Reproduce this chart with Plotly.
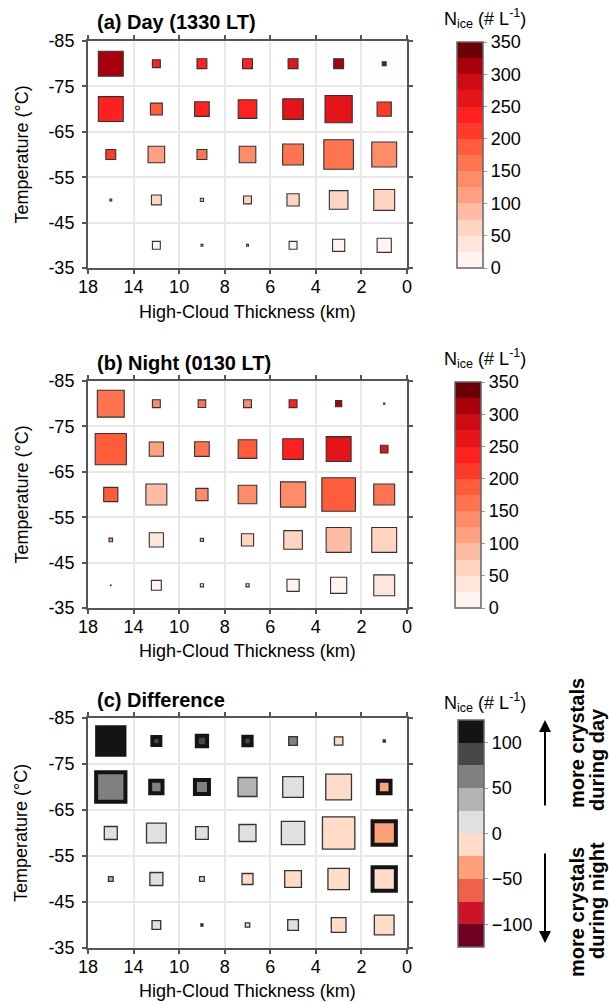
import numpy as np
import plotly.graph_objects as go

# ---------------- data ----------------
thickness_edges = [18, 14, 10, 8, 6, 4, 2, 0]          # high-cloud thickness bin edges (km)
temperature_rows = [-80, -70, -60, -50, -40]            # temperature bin centres (deg C)
temp_ticks = [-85, -75, -65, -55, -45, -35]
nan = None

# Ice-crystal number concentration (# per L), rows = temperature, cols = thickness bins
nice_day = [
    [310, 237, 237, 237, 262, 310, 310],
    [240, 190, 235, 240, 265, 265, 215],
    [215, 112, 162, 137, 162, 162, 137],
    [62, 62, 90, 62, 62, 62, 55],
    [nan, 15, 15, 15, 20, 10, 12],
]
nice_night = [
    [162, 137, 150, 125, 237, 312, 290],
    [187, 112, 162, 187, 237, 262, 262],
    [187, 87, 137, 137, 137, 190, 162],
    [112, 30, 112, 62, 62, 87, 62],
    [10, 15, 8, 62, 10, 10, 30],
]
nice_diff = [
    [112, 87, 87, 87, 62, -12, 112],
    [62, 62, 62, 37, 12, -12, -37],
    [12, 12, 12, 12, 12, -12, -37],
    [37, 12, 12, -12, -12, -12, -12],
    [nan, 12, 112, -12, 12, -12, -12],
]
# relative frequency of occurrence (drives the square size)
freq_day = [
    [26, 9, 11, 11, 11, 11, 5],
    [26, 13, 15.7, 19.7, 21.7, 28.3, 15.3],
    [11, 17.7, 11, 17.7, 22, 30.7, 26],
    [3, 11, 4.3, 9, 13.3, 19.7, 22],
    [nan, 9, 3, 3, 9, 13.3, 15.3],
]
freq_night = [
    [28, 9, 8.7, 9, 9, 7.3, 2.3],
    [32.3, 15.3, 15.7, 19.7, 21.7, 26, 8.7],
    [15.3, 22, 13.3, 19.7, 26.3, 34.7, 22],
    [4.7, 15.3, 4.3, 13.3, 19.7, 26, 26],
    [1, 11, 4.3, 4.3, 13.3, 17.3, 22],
]
freq_diff = [
    [31.3, 12, 14.3, 12.3, 10, 9.7, 3.3],
    [33.3, 16.3, 18, 20.3, 22, 27, 16.7],
    [14.3, 21, 14, 18.3, 24.7, 33.7, 27.3],
    [6, 14.3, 6, 12.3, 18, 22.7, 27.3],
    [nan, 10, 3.3, 5.7, 12, 16, 21],
]
# statistically significant difference (thick outline)
signif_diff = [
    [1, 1, 1, 1, 0, 0, 0],
    [1, 1, 1, 0, 0, 0, 1],
    [0, 0, 0, 0, 0, 0, 1],
    [0, 0, 0, 0, 0, 0, 1],
    [0, 0, 0, 0, 0, 0, 0],
]
nice_ticks = [0, 50, 100, 150, 200, 250, 300, 350]
diff_ticks = [-100, -50, 0, 50, 100]

# ---------------- styling ----------------
W, H = 609, 1002
FONT = "Liberation Sans, Arial, Helvetica, sans-serif"

reds = ["#fff4f0", "#ffe6dc", "#ffd4c0", "#ffbca4", "#ffa080", "#ff8c68", "#ff7450",
        "#ff5c3c", "#ff3a2a", "#ff2020", "#e41418", "#cc0c14", "#a8000c", "#6b0008"]
diffc = ["#700020", "#cc1428", "#f0604a", "#ffa07a", "#ffdcc8",
         "#e0e0e0", "#b4b4b4", "#808080", "#484848", "#141414"]


def discrete_scale(colors):
    n = len(colors)
    sc = []
    for i, c in enumerate(colors):
        sc.append([i / n, c])
        sc.append([(i + 1) / n, c])
    return sc


def fx(p):
    return p / W


def fy(p):
    return 1 - p / H


bin_pos = np.arange(len(thickness_edges) - 1) + 0.5

panels = [
    dict(vals=nice_day, freq=freq_day, sig=None, top=41, bot=268, ca="coloraxis",
         title="<b>(a) Day (1330 LT)</b>", ty=22, xt=312),
    dict(vals=nice_night, freq=freq_night, sig=None, top=381, bot=608, ca="coloraxis2",
         title="<b>(b) Night (0130 LT)</b>", ty=363, xt=651),
    dict(vals=nice_diff, freq=freq_diff, sig=signif_diff, top=718, bot=948, ca="coloraxis3",
         title="<b>(c) Difference</b>", ty=700, xt=991),
]

fig = go.Figure()
annotations = []
layout = dict(
    template="none",
    width=W, height=H, margin=dict(l=0, r=0, t=0, b=0, pad=0, autoexpand=False),
    paper_bgcolor="white", plot_bgcolor="white",
    font=dict(family=FONT, size=18, color="black"),
    showlegend=False,
)

for k, p in enumerate(panels):
    xs, ys, cs, ss, lw, lc = [], [], [], [], [], []
    for r, t in enumerate(temperature_rows):
        for c, xp in enumerate(bin_pos):
            v = p["vals"][r][c]
            f = p["freq"][r][c]
            if v is None or f is None:
                continue
            if p["sig"] is not None:
                w = 4.0 if p["sig"][r][c] else 1.3
                col = "#141414" if p["sig"][r][c] else "#333333"
            else:
                w = 1.1
                col = "#333333"
            xs.append(xp)
            ys.append(t)
            cs.append(v)
            ss.append(max(f - w, 0.6))
            lw.append(w)
            lc.append(col)
    sfx = "" if k == 0 else str(k + 1)
    fig.add_trace(go.Scatter(
        x=xs, y=ys, mode="markers", xaxis="x" + sfx, yaxis="y" + sfx,
        marker=dict(symbol="square", size=ss, color=cs, coloraxis=p["ca"], opacity=1,
                    line=dict(width=lw, color=lc)),
        hoverinfo="skip", cliponaxis=False,
    ))
    axis_common = dict(
        showgrid=True, gridcolor="#e8e8e8", gridwidth=1.5, zeroline=False,
        showline=True, linecolor="#555555", linewidth=2, mirror="ticks",
        ticks="outside", ticklen=4, tickwidth=2, tickcolor="#555555",
        tickfont=dict(size=18, family=FONT, color="black"), automargin=False,
    )
    layout["xaxis" + sfx] = dict(
        axis_common, domain=[fx(88), fx(407)], range=[0, len(thickness_edges) - 1],
        tickvals=list(range(len(thickness_edges))), ticktext=[str(e) for e in thickness_edges],
        anchor="y" + sfx, ticklabelstandoff=-3,
    )
    layout["yaxis" + sfx] = dict(
        axis_common, domain=[fy(p["bot"]), fy(p["top"])], range=[-35, -85],
        tickvals=temp_ticks, ticktext=[str(t) for t in temp_ticks],
        anchor="x" + sfx, ticklabelstandoff=4,
    )
    annotations.append(dict(text=p["title"], x=fx(95), y=fy(p["ty"]), xref="paper", yref="paper",
                            xanchor="left", yanchor="middle", showarrow=False,
                            font=dict(size=20, family=FONT)))
    annotations.append(dict(text="High-Cloud Thickness (km)", x=fx(247.5), y=fy(p["xt"]),
                            xref="paper", yref="paper", xanchor="center", yanchor="middle",
                            showarrow=False, font=dict(size=18, family=FONT)))
    annotations.append(dict(text="Temperature (°C)", x=fx(21), y=fy((p["top"] + p["bot"]) / 2),
                            xref="paper", yref="paper", xanchor="center", yanchor="middle",
                            textangle=-90, showarrow=False, font=dict(size=18, family=FONT)))

cb_common = dict(thickness=26, thicknessmode="pixels", lenmode="fraction",
                 xanchor="left", yanchor="top", xpad=0, ypad=0,
                 outlinewidth=1.5, outlinecolor="#666666",
                 ticks="outside", ticklen=4, tickwidth=1, tickcolor="#999999",
                 tickfont=dict(size=18, family=FONT, color="black"))
layout["coloraxis"] = dict(colorscale=discrete_scale(reds), cmin=0, cmax=350,
                           colorbar=dict(cb_common, x=fx(457), y=fy(42), len=226 / H,
                                         tickvals=nice_ticks))
layout["coloraxis2"] = dict(colorscale=discrete_scale(reds), cmin=0, cmax=350,
                            colorbar=dict(cb_common, x=fx(455), y=fy(382), len=226 / H,
                                          tickvals=nice_ticks))
layout["coloraxis3"] = dict(colorscale=discrete_scale(diffc), cmin=-125, cmax=125,
                            colorbar=dict(cb_common, x=fx(458), y=fy(720), len=227 / H,
                                          tickvals=diff_ticks))

for yy in (18, 358, 702):
    annotations.append(dict(text="N<sub>ice</sub> (# L<sup>-1</sup>)", x=fx(485), y=fy(yy),
                            xref="paper", yref="paper", xanchor="center", yanchor="middle",
                            showarrow=False, font=dict(size=18, family=FONT)))

# arrows + side labels for the difference panel
annotations.append(dict(text="", x=fx(545), y=fy(720), xref="paper", yref="paper",
                        ax=0, ay=87, showarrow=True, arrowhead=2, arrowsize=1.2,
                        arrowwidth=2, arrowcolor="black"))
annotations.append(dict(text="", x=fx(545), y=fy(943), xref="paper", yref="paper",
                        ax=0, ay=-91, showarrow=True, arrowhead=2, arrowsize=1.2,
                        arrowwidth=2, arrowcolor="black"))
side_labels = [("more crystals", 577, 743), ("during day", 597, 760),
               ("more crystals", 577, 912), ("during night", 597, 901)]
for txt, xx, yy in side_labels:
    annotations.append(dict(text="<b>" + txt + "</b>", x=fx(xx), y=fy(yy), xref="paper",
                            yref="paper", xanchor="center", yanchor="middle", textangle=-90,
                            showarrow=False, font=dict(size=20, family=FONT)))

layout["annotations"] = annotations
fig.update_layout(**layout)
fig.write_html("out.html", config={"displayModeBar": False},
               post_script="document.body.style.margin='0px';document.body.style.overflow='hidden';")
